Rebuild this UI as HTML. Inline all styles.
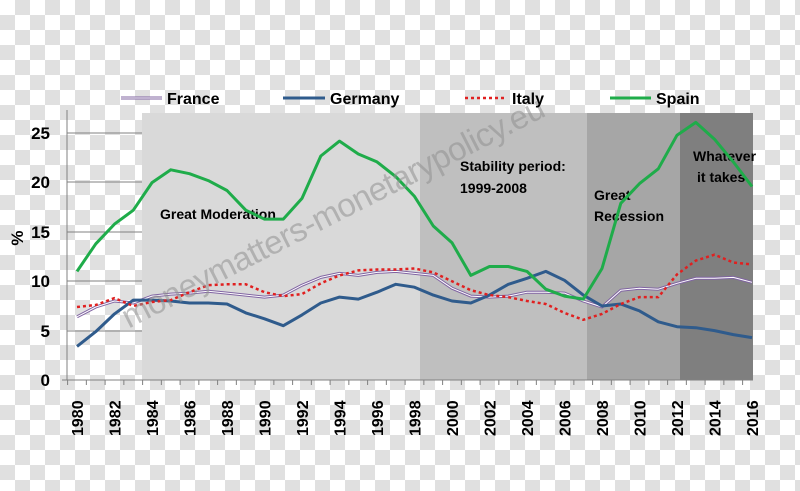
<!DOCTYPE html>
<html><head><meta charset="utf-8"><style>
html,body{margin:0;padding:0;}
body{width:800px;height:491px;overflow:hidden;
background-color:#fff;
background-image:linear-gradient(45deg,#e0e0e0 25%,transparent 25%,transparent 75%,#e0e0e0 75%),linear-gradient(45deg,#e0e0e0 25%,transparent 25%,transparent 75%,#e0e0e0 75%);
background-size:30px 30px;background-position:0 0,15px 15px;}
svg{position:absolute;left:0;top:0;font-family:"Liberation Sans",sans-serif;}
</style></head><body>
<svg id="s" width="800" height="491" xmlns="http://www.w3.org/2000/svg">
<rect x="142" y="113" width="278" height="267" fill="#d9d9d9"/>
<rect x="420" y="113" width="167" height="267" fill="#bfbfbf"/>
<rect x="587" y="113" width="93" height="267" fill="#a6a6a6"/>
<rect x="680" y="113" width="73" height="267" fill="#7f7f7f"/>
<g stroke="#808080" stroke-width="1">
<line x1="67" y1="133" x2="142" y2="133"/><line x1="67" y1="182" x2="142" y2="182"/>
<line x1="67" y1="232" x2="142" y2="232"/><line x1="67" y1="281" x2="142" y2="281"/>
<line x1="67" y1="331" x2="142" y2="331"/>
<line x1="67" y1="110" x2="67" y2="380"/><line x1="62" y1="380" x2="753" y2="380"/>
</g>
<g id="ticks" stroke="#808080"></g>
<g font-size="17" font-weight="bold" text-anchor="end" fill="#000">
<text x="50" y="139">25</text><text x="50" y="188">20</text><text x="50" y="238">15</text>
<text x="50" y="287">10</text><text x="50" y="337">5</text><text x="50" y="386">0</text>
</g>
<text transform="translate(23,238) rotate(-90)" font-size="17" font-weight="bold" text-anchor="middle">%</text>
<g id="xl" font-size="16" font-weight="bold"></g>
<g font-size="14" font-weight="bold" fill="#000">
<text x="160" y="219">Great Moderation</text>
<text x="460" y="171">Stability period:</text><text x="460" y="193">1999-2008</text>
<text x="594" y="200">Great</text><text x="594" y="221">Recession</text>
<text x="693" y="161">Whatever</text><text x="697" y="182">it takes</text>
</g>
<g id="lines" fill="none" stroke-linejoin="round"></g>
<text transform="translate(338,222) rotate(-27)" font-size="33" fill="#909090" fill-opacity="0.55" text-anchor="middle" textLength="470">moneymatters-monetarypolicy.eu</text>
<g font-size="16" font-weight="bold">
<line x1="121" y1="98" x2="162" y2="98" stroke="#8064a2" stroke-width="3"/><line x1="121" y1="98" x2="162" y2="98" stroke="#fff" stroke-width="1"/>
<text x="167" y="104">France</text>
<line x1="283" y1="98" x2="325" y2="98" stroke="#2f5b8c" stroke-width="3"/><text x="330" y="104">Germany</text>
<line x1="465" y1="98" x2="507" y2="98" stroke="#e02020" stroke-width="2.5" stroke-dasharray="3,3"/><text x="512" y="104">Italy</text>
<line x1="610" y1="98" x2="651" y2="98" stroke="#1fac4a" stroke-width="3"/><text x="656" y="104">Spain</text>
</g>
</svg>
<script>
var X=y=>77+(y-1980)*18.75, Y=v=>380-v*9.87;
var d={
sp:[11,13.8,15.8,17.2,20,21.3,20.9,20.2,19.2,17.2,16.3,16.3,18.4,22.7,24.2,22.9,22.1,20.6,18.6,15.6,13.9,10.6,11.5,11.5,11,9.2,8.5,8.2,11.3,17.9,19.9,21.4,24.8,26.1,24.4,22.1,19.6],
de:[3.4,4.9,6.7,8.1,8.1,8.0,7.8,7.8,7.7,6.8,6.2,5.5,6.6,7.8,8.4,8.2,8.9,9.7,9.4,8.6,8.0,7.8,8.6,9.7,10.3,11.0,10.1,8.6,7.5,7.7,7.0,5.9,5.4,5.3,5.0,4.6,4.3],
fr:[6.4,7.4,8.0,7.8,8.5,8.7,8.8,9.0,8.8,8.6,8.4,8.6,9.6,10.4,10.8,10.6,10.9,11.0,10.8,10.6,9.3,8.5,8.4,8.5,8.9,8.9,8.8,8.0,7.4,9.1,9.3,9.2,9.8,10.3,10.3,10.4,9.9],
it:[7.4,7.6,8.3,7.5,7.9,8.1,8.9,9.6,9.7,9.7,8.9,8.5,8.7,9.8,10.6,11.1,11.2,11.2,11.3,10.9,10.0,9.1,8.6,8.4,8.0,7.7,6.8,6.1,6.7,7.7,8.4,8.4,10.7,12.1,12.7,11.9,11.7]};
function pts(a){return a.map((v,i)=>X(1980+i).toFixed(1)+","+Y(v).toFixed(1)).join(" ");}
var ns="http://www.w3.org/2000/svg",L=document.getElementById("lines");
function pl(a,c,w,da){var p=document.createElementNS(ns,"polyline");p.setAttribute("points",pts(a));p.setAttribute("stroke",c);p.setAttribute("stroke-width",w);if(da)p.setAttribute("stroke-dasharray",da);L.appendChild(p);}
pl(d.fr,"#8064a2",3);pl(d.fr,"#fff",1);
pl(d.de,"#2f5b8c",3);pl(d.it,"#e02020",2.5,"3,3");pl(d.sp,"#1fac4a",3);
var T=document.getElementById("ticks"),XL=document.getElementById("xl");
for(var y=1980;y<=2016;y++){var l=document.createElementNS(ns,"line");var x=X(y)-9.4;l.setAttribute("x1",x);l.setAttribute("x2",x);l.setAttribute("y1",380);l.setAttribute("y2",385);T.appendChild(l);
if(y%2==0){var t=document.createElementNS(ns,"text");t.setAttribute("transform","translate("+(X(y)+6)+",436) rotate(-90)");t.textContent=y;XL.appendChild(t);}}
</script>
</body></html>
